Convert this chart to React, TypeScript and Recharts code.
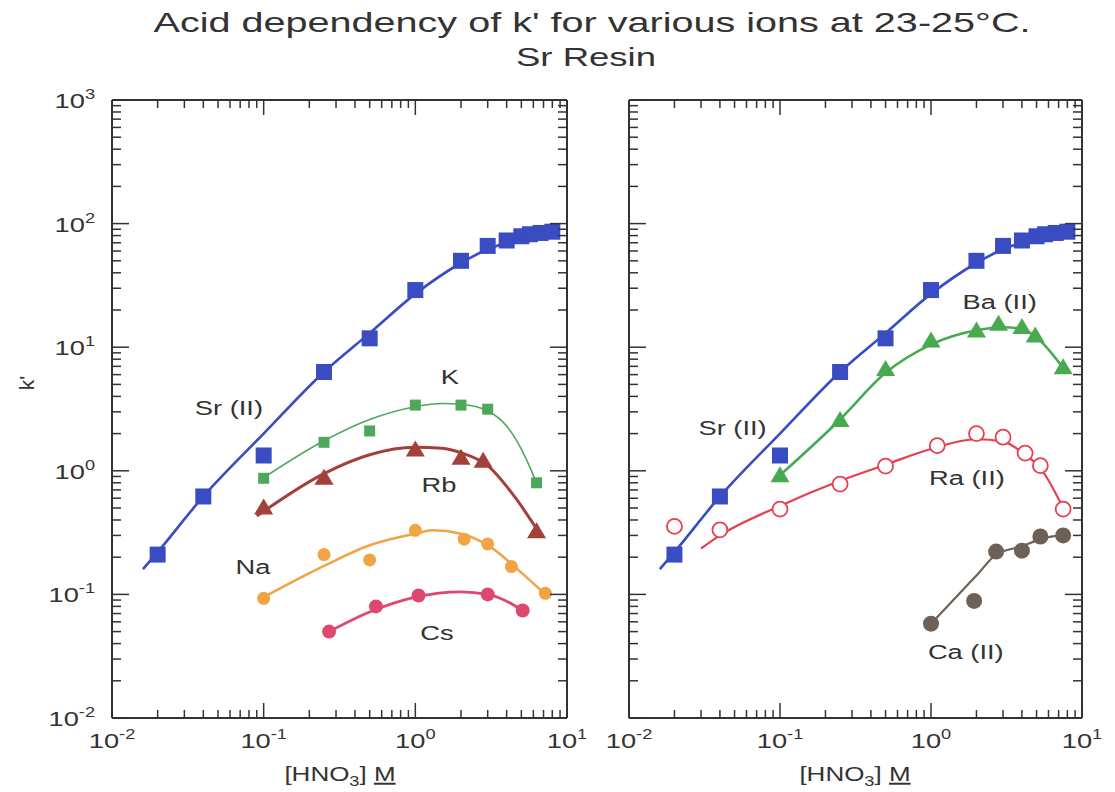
import React from 'react';
import { ComposedChart, Line, Scatter, XAxis, YAxis, ReferenceDot } from 'recharts';

const FONT = '"Liberation Sans", Arial, Helvetica, sans-serif';
const INK = '#333333';
const SX = 1.3; // horizontal stretch of the lettering in the picture

// ---------- tick values ----------
const X_MAJOR = [0.01, 0.1, 1, 10];
const Y_MAJOR = [0.01, 0.1, 1, 10, 100, 1000];
const MINOR_MULT = [2, 3, 4, 5, 6, 7, 8, 9];
const withMinor = (major: number[]) =>
  major.flatMap((m, i) => (i < major.length - 1 ? [m, ...MINOR_MULT.map((k) => +(m * k).toPrecision(3))] : [m]));
const X_TICKS = withMinor(X_MAJOR);
const Y_TICKS = withMinor(Y_MAJOR);

// ---------- data (HNO3 molarity vs k') ----------
const SR_X = [0.02, 0.04, 0.1, 0.25, 0.5, 1, 2, 3, 4, 5, 5.7, 6.7, 8];
const SR_Y = [0.21, 0.62, 1.33, 6.3, 11.8, 29, 50, 66, 73, 79, 82, 84, 86];
const SR_FIT_X = [0.016, 0.02, 0.04, 0.1, 0.25, 0.5, 1, 2, 3, 5, 8];
const SR_FIT_Y = [0.16, 0.22, 0.62, 2.0, 6.3, 13, 27, 48, 62, 76, 87];

const K_X = [0.1, 0.25, 0.5, 1, 2, 3, 6.3];
const K_Y = [0.87, 1.7, 2.1, 3.4, 3.4, 3.15, 0.8];
const K_FIT_X = [0.1, 0.25, 0.5, 1, 1.5, 2, 3, 4, 5, 6.3];
const K_FIT_Y = [0.88, 1.75, 2.6, 3.3, 3.5, 3.45, 3.05, 2.3, 1.5, 0.8];

const RB_X = [0.1, 0.25, 1, 2, 2.8, 6.3];
const RB_Y = [0.5, 0.87, 1.47, 1.26, 1.19, 0.32];
const RB_FIT_X = [0.09, 0.25, 0.5, 1, 1.5, 2, 3, 4.5, 6.5];
const RB_FIT_Y = [0.43, 0.95, 1.35, 1.55, 1.52, 1.4, 1.1, 0.62, 0.32];

const NA_X = [0.1, 0.25, 0.5, 1, 2.1, 3, 4.3, 7.2];
const NA_Y = [0.093, 0.21, 0.19, 0.33, 0.28, 0.256, 0.168, 0.102];
const NA_FIT_X = [0.1, 0.25, 0.5, 1, 1.3, 2, 3, 5, 7.2];
const NA_FIT_Y = [0.095, 0.17, 0.25, 0.31, 0.33, 0.31, 0.25, 0.15, 0.1];

const CS_X = [0.27, 0.55, 1.05, 3, 5.1];
const CS_Y = [0.05, 0.08, 0.098, 0.1, 0.074];
const CS_FIT_X = [0.27, 0.5, 1, 2, 3, 4, 5.1];
const CS_FIT_Y = [0.05, 0.072, 0.095, 0.105, 0.1, 0.088, 0.074];

const BA_X = [0.1, 0.25, 0.5, 1, 2, 2.8, 4, 4.9, 7.5];
const BA_Y = [0.91, 2.55, 6.6, 11.2, 13.5, 15.3, 14.4, 12.3, 6.8];
const BA_FIT_X = [0.1, 0.25, 0.5, 1, 2, 3, 4, 5, 7.5];
const BA_FIT_Y = [0.92, 2.6, 6.2, 10.5, 13.7, 14.5, 14, 12, 6.8];

const RA_X = [0.02, 0.04, 0.1, 0.25, 0.5, 1.1, 2, 3, 4.2, 5.3, 7.5];
const RA_Y = [0.355, 0.333, 0.49, 0.78, 1.09, 1.6, 2.0, 1.87, 1.39, 1.1, 0.49];
const RA_FIT_X = [0.03, 0.04, 0.1, 0.25, 0.5, 1, 2, 3, 4.2, 5.3, 7.5];
const RA_FIT_Y = [0.235, 0.3, 0.52, 0.83, 1.12, 1.5, 1.8, 1.72, 1.35, 1.05, 0.5];

const CA_X = [1, 1.93, 2.7, 4, 5.3, 7.5];
const CA_Y = [0.058, 0.0885, 0.222, 0.226, 0.294, 0.3];
const CA_FIT_X = [1, 1.5, 2, 2.7, 4, 5.3, 7.5];
const CA_FIT_Y = [0.058, 0.098, 0.142, 0.21, 0.245, 0.28, 0.305];

// ---------- series labels (anchored in data space) ----------
const LEFT_LABELS = [
  { text: 'Sr (II)', x: 0.059, y: 3.28 },
  { text: 'K', x: 1.69, y: 5.8 },
  { text: 'Rb', x: 1.43, y: 0.77 },
  { text: 'Na', x: 0.085, y: 0.167 },
  { text: 'Cs', x: 1.39, y: 0.049 },
];
const RIGHT_LABELS = [
  { text: 'Ba (II)', x: 2.85, y: 23.5 },
  { text: 'Sr (II)', x: 0.0485, y: 2.23 },
  { text: 'Ra (II)', x: 1.73, y: 0.89 },
  { text: 'Ca (II)', x: 1.7, y: 0.0342 },
];

const COLORS = {
  sr: '#3a4cc1',
  k: '#4ea85c',
  rb: '#a2403a',
  na: '#f2a445',
  cs: '#e0476f',
  ba: '#48aa50',
  ra: '#e63f4e',
  ca: '#6d6057',
};

const pts = (xs: number[], ys: number[]) => xs.map((x, i) => ({ x, y: ys[i] }));

// ---------- marker shapes ----------
const squareShape = (size: number, fill: string) => (p: any) => (
  <rect x={p.cx - size / 2} y={p.cy - size / 2} width={size} height={size} fill={fill} />
);
const triShape = (w: number, h: number, fill: string) => (p: any) => (
  <polygon
    points={`${p.cx},${p.cy - h * 0.6} ${p.cx - w / 2},${p.cy + h * 0.4} ${p.cx + w / 2},${p.cy + h * 0.4}`}
    fill={fill}
  />
);
const circleShape = (r: number, fill: string) => (p: any) => <circle cx={p.cx} cy={p.cy} r={r} fill={fill} />;
const openCircleShape = (r: number, stroke: string) => (p: any) => (
  <circle cx={p.cx} cy={p.cy} r={r} fill="#ffffff" stroke={stroke} strokeWidth={1.8} />
);

// ---------- ticks ----------
const isMajor = (v: number) => {
  const e = Math.log10(v);
  return Math.abs(e - Math.round(e)) < 1e-6;
};
const Pow = ({ x, y, exp, anchor }: { x: number; y: number; exp: number; anchor: 'middle' | 'end' }) => (
  <text
    transform={`translate(${x} ${y}) scale(${SX} 1)`}
    textAnchor={anchor}
    fontFamily={FONT}
    fontSize={21}
    fill={INK}
  >
    10
    <tspan dy={-9} fontSize={14}>
      {exp}
    </tspan>
  </text>
);

const BottomTick = (props: any) => {
  const { x, y, payload } = props;
  const major = isMajor(payload.value);
  const len = major ? 15 : 8;
  return (
    <g>
      <line x1={x} x2={x} y1={y} y2={y - len} stroke={INK} strokeWidth={1.5} />
      {major && <Pow x={x} y={y + 30} exp={Math.round(Math.log10(payload.value))} anchor="middle" />}
    </g>
  );
};
const TopTick = (props: any) => {
  const { x, y, payload } = props;
  const len = isMajor(payload.value) ? 15 : 8;
  return <line x1={x} x2={x} y1={y} y2={y + len} stroke={INK} strokeWidth={1.5} />;
};
const makeLeftTick = (labels: boolean) => (props: any) => {
  const { x, y, payload } = props;
  const major = isMajor(payload.value);
  const len = major ? 17 : 9;
  return (
    <g>
      <line x1={x} x2={x + len} y1={y} y2={y} stroke={INK} strokeWidth={1.5} />
      {labels && major && <Pow x={x - 17} y={y + 8} exp={Math.round(Math.log10(payload.value))} anchor="end" />}
    </g>
  );
};
const RightTick = (props: any) => {
  const { x, y, payload } = props;
  const len = isMajor(payload.value) ? 17 : 9;
  return <line x1={x} x2={x - len} y1={y} y2={y} stroke={INK} strokeWidth={1.5} />;
};

const labelShape = (text: string) => (p: any) => (
  <text
    transform={`translate(${p.cx} ${p.cy + 7.5}) scale(${SX} 1)`}
    textAnchor="middle"
    fontFamily={FONT}
    fontSize={21}
    fill={INK}
  >
    {text}
  </text>
);

type SeriesDef = {
  key: string;
  xs: number[];
  ys: number[];
  fx: number[];
  fy: number[];
  color: string;
  width: number;
  shape: any;
};

function Panel({
  width,
  left,
  series,
  labels,
  showYLabels,
}: {
  width: number;
  left: number;
  series: SeriesDef[];
  labels: { text: string; x: number; y: number }[];
  showYLabels: boolean;
}) {
  const axisLine = { stroke: INK, strokeWidth: 2 };
  // each axis takes 1px, so margins are 1px smaller than the plot offsets
  return (
    <ComposedChart width={width} height={792} margin={{ top: 99, left: left - 1, right: 32, bottom: 73 }}>
      <XAxis
        xAxisId="b"
        dataKey="x"
        type="number"
        scale="log"
        domain={[0.01, 10]}
        allowDataOverflow
        orientation="bottom"
        ticks={X_TICKS}
        interval={0}
        tick={<BottomTick />}
        tickLine={false}
        tickSize={0}
        tickMargin={0}
        axisLine={axisLine}
        height={1}
      />
      <XAxis
        xAxisId="t"
        dataKey="x"
        type="number"
        scale="log"
        domain={[0.01, 10]}
        allowDataOverflow
        orientation="top"
        ticks={X_TICKS}
        interval={0}
        tick={<TopTick />}
        tickLine={false}
        tickSize={0}
        tickMargin={0}
        axisLine={axisLine}
        height={1}
      />
      <YAxis
        yAxisId="l"
        dataKey="y"
        type="number"
        scale="log"
        domain={[0.01, 1000]}
        allowDataOverflow
        orientation="left"
        ticks={Y_TICKS}
        interval={0}
        tick={makeLeftTick(showYLabels)}
        tickLine={false}
        tickSize={0}
        tickMargin={0}
        axisLine={axisLine}
        width={1}
      />
      <YAxis
        yAxisId="r"
        dataKey="y"
        type="number"
        scale="log"
        domain={[0.01, 1000]}
        allowDataOverflow
        orientation="right"
        ticks={Y_TICKS}
        interval={0}
        tick={<RightTick />}
        tickLine={false}
        tickSize={0}
        tickMargin={0}
        axisLine={axisLine}
        width={1}
      />
      {series.map((s) => (
        <Line
          key={s.key + '-fit'}
          xAxisId="b"
          yAxisId="l"
          data={pts(s.fx, s.fy)}
          dataKey="y"
          type="monotone"
          stroke={s.color}
          strokeWidth={s.width}
          dot={false}
          activeDot={false}
          isAnimationActive={false}
        />
      ))}
      {series.map((s) => (
        <Scatter
          key={s.key + '-pts'}
          xAxisId="b"
          yAxisId="l"
          data={pts(s.xs, s.ys)}
          shape={s.shape}
          isAnimationActive={false}
        />
      ))}
      {labels.map((l) => (
        <ReferenceDot
          key={l.text}
          xAxisId="b"
          yAxisId="l"
          x={l.x}
          y={l.y}
          r={0}
          shape={labelShape(l.text)}
        />
      ))}
    </ComposedChart>
  );
}

const LEFT_SERIES: SeriesDef[] = [
  { key: 'sr', xs: SR_X, ys: SR_Y, fx: SR_FIT_X, fy: SR_FIT_Y, color: COLORS.sr, width: 2.6, shape: squareShape(16, COLORS.sr) },
  { key: 'k', xs: K_X, ys: K_Y, fx: K_FIT_X, fy: K_FIT_Y, color: COLORS.k, width: 1.6, shape: squareShape(11, COLORS.k) },
  { key: 'rb', xs: RB_X, ys: RB_Y, fx: RB_FIT_X, fy: RB_FIT_Y, color: COLORS.rb, width: 3, shape: triShape(19, 16, COLORS.rb) },
  { key: 'na', xs: NA_X, ys: NA_Y, fx: NA_FIT_X, fy: NA_FIT_Y, color: COLORS.na, width: 2.6, shape: circleShape(6.5, COLORS.na) },
  { key: 'cs', xs: CS_X, ys: CS_Y, fx: CS_FIT_X, fy: CS_FIT_Y, color: COLORS.cs, width: 2.8, shape: circleShape(7, COLORS.cs) },
];
const RIGHT_SERIES: SeriesDef[] = [
  { key: 'sr', xs: SR_X, ys: SR_Y, fx: SR_FIT_X, fy: SR_FIT_Y, color: COLORS.sr, width: 2.6, shape: squareShape(16, COLORS.sr) },
  { key: 'ba', xs: BA_X, ys: BA_Y, fx: BA_FIT_X, fy: BA_FIT_Y, color: COLORS.ba, width: 2.6, shape: triShape(19, 16, COLORS.ba) },
  { key: 'ra', xs: RA_X, ys: RA_Y, fx: RA_FIT_X, fy: RA_FIT_Y, color: COLORS.ra, width: 2.2, shape: openCircleShape(7.5, COLORS.ra) },
  { key: 'ca', xs: CA_X, ys: CA_Y, fx: CA_FIT_X, fy: CA_FIT_Y, color: COLORS.ca, width: 2.2, shape: circleShape(8, COLORS.ca) },
];

const XLabel = ({ cx }: { cx: number }) => (
  <text transform={`translate(${cx} 781) scale(${SX} 1)`} textAnchor="middle" fontFamily={FONT} fontSize={20} fill={INK}>
    [HNO
    <tspan dy={5} fontSize={14}>
      3
    </tspan>
    <tspan dy={-5}>] </tspan>
    <tspan style={{ textDecoration: 'underline' }}>M</tspan>
  </text>
);

export default function App() {
  return (
    <div style={{ position: 'absolute', left: 0, top: 0, width: 1115, height: 792, background: '#ffffff' }}>
      <div style={{ position: 'absolute', left: 0, top: 0 }}>
        <Panel width={600} left={112} series={LEFT_SERIES} labels={LEFT_LABELS} showYLabels />
      </div>
      <div style={{ position: 'absolute', left: 600, top: 0 }}>
        <Panel width={515} left={29} series={RIGHT_SERIES} labels={RIGHT_LABELS} showYLabels={false} />
      </div>
      <svg
        width={1115}
        height={792}
        style={{ position: 'absolute', left: 0, top: 0, pointerEvents: 'none' }}
      >
        <text
          x={592}
          y={32}
          textAnchor="middle"
          fontFamily={FONT}
          fontSize={28}
          fill={INK}
          textLength={877}
          lengthAdjust="spacingAndGlyphs"
        >
          Acid dependency of k' for various ions at 23-25°C.
        </text>
        <text
          x={586}
          y={66}
          textAnchor="middle"
          fontFamily={FONT}
          fontSize={25}
          fill={INK}
          textLength={140}
          lengthAdjust="spacingAndGlyphs"
        >
          Sr Resin
        </text>
        <text
          transform="translate(34 383) rotate(-90)"
          textAnchor="middle"
          fontFamily={FONT}
          fontSize={21}
          fill={INK}
        >
          k'
        </text>
        <XLabel cx={340} />
        <XLabel cx={855} />
      </svg>
    </div>
  );
}
